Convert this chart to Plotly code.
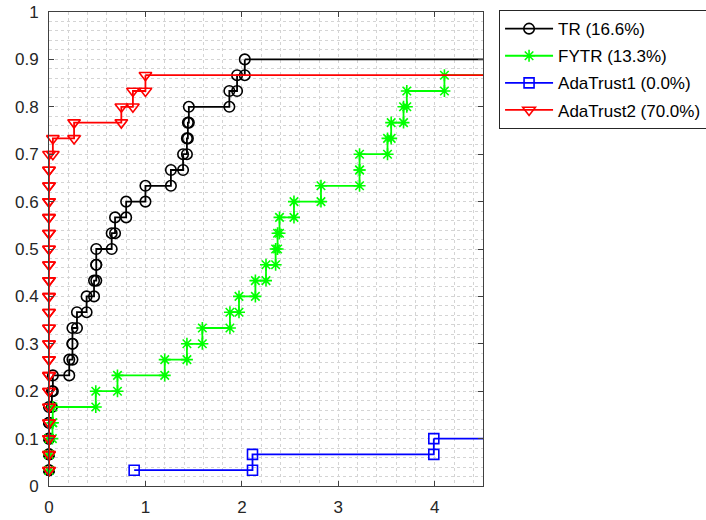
import plotly.graph_objects as go

# Performance profile: 30 test problems, log2 ratios (tau) at which each solver
# reaches the next problem solved; problems never solved are omitted.
n_problems = 30
x_max = 4.5

solver_names = ["TR (16.6%)", "FYTR (13.3%)", "AdaTrust1 (0.0%)", "AdaTrust2 (70.0%)"]

tr_tau = [0, 0, 0, 0, 0, 0.03, 0.04, 0.21, 0.243, 0.243, 0.29, 0.39, 0.467, 0.49,
          0.49, 0.65, 0.685, 0.80, 1.00, 1.264, 1.39, 1.43, 1.44, 1.45, 1.87, 1.95,
          2.03]
fytr_tau = [0, 0, 0, 0.035, 0.04, 0.485, 0.71, 1.20, 1.43, 1.59, 1.876, 1.97, 2.14,
            2.25, 2.35, 2.37, 2.39, 2.54, 2.82, 3.22, 3.22, 3.51, 3.548, 3.676, 3.71,
            4.10]
ada1_tau = [0.883, 2.11, 3.99]
ada2_tau = [0] * 21 + [0.04, 0.26, 0.75, 0.87, 1.00]

colors = ["#000000", "#00ff00", "#0000ff", "#ff0000"]
symbols = ["circle-open", "asterisk-open", "square-open", "triangle-down-open"]
sizes = [10.5, 10, 10, 11]


def stair_vertices(taus):
    xs, ys = [], []
    for i, t in enumerate(taus):
        if i > 0:
            xs.append(t)
            ys.append(i / n_problems)
        xs.append(t)
        ys.append((i + 1) / n_problems)
    return xs, ys


fig = go.Figure()
for k, taus in enumerate([tr_tau, fytr_tau, ada1_tau, ada2_tau]):
    xs, ys = stair_vertices(taus)
    grp = f"s{k}"
    # flat tail out to the right edge of the axes
    fig.add_trace(go.Scatter(
        x=[xs[-1], x_max + 0.2], y=[ys[-1], ys[-1]], mode="lines",
        line=dict(color=colors[k], width=1.8), showlegend=False,
        legendgroup=grp, hoverinfo="skip"))
    fig.add_trace(go.Scatter(
        x=xs, y=ys, mode="lines+markers", name=solver_names[k],
        legendgroup=grp, cliponaxis=False,
        line=dict(color=colors[k], width=1.8),
        marker=dict(symbol=symbols[k], size=sizes[k],
                    line=dict(color=colors[k], width=1.6), color=colors[k])))

grid_col = "#d4d4d4"
axis_col = "#404040"
tick_font = dict(family="Liberation Sans, Arial, sans-serif", size=17, color="#262626")
fig.update_xaxes(
    range=[0, x_max], tickvals=[0, 1, 2, 3, 4], ticktext=["0", "1", "2", "3", "4"],
    showline=True, linecolor=axis_col, linewidth=1, mirror="ticks",
    ticks="inside", ticklen=5, tickcolor=axis_col,
    showgrid=True, gridcolor=grid_col, griddash="dot", gridwidth=1,
    minor=dict(dtick=0.2, showgrid=True, gridcolor=grid_col, griddash="dot", gridwidth=1),
    zeroline=False, ticklabelstandoff=6, automargin=False, tickfont=tick_font)
fig.update_yaxes(
    range=[0, 1], tickvals=[i / 10 for i in range(11)],
    ticktext=["0", "0.1", "0.2", "0.3", "0.4", "0.5", "0.6", "0.7", "0.8", "0.9", "1"],
    showline=True, linecolor=axis_col, linewidth=1, mirror="ticks",
    ticks="inside", ticklen=5, tickcolor=axis_col,
    showgrid=True, gridcolor=grid_col, griddash="dot", gridwidth=1,
    minor=dict(dtick=0.02, showgrid=True, gridcolor=grid_col, griddash="dot", gridwidth=1),
    zeroline=False, ticklabelstandoff=6, automargin=False, tickfont=tick_font)

fig.update_layout(
    width=706, height=520,
    margin=dict(l=49, r=223, t=12, b=34, autoexpand=False),
    paper_bgcolor="white", plot_bgcolor="white",
    showlegend=True,
    legend=dict(x=1.037, y=1.004, xanchor="left", yanchor="top",
                bgcolor="white", bordercolor="#262626", borderwidth=1,
                font=dict(family="Liberation Sans, Arial, sans-serif", size=17, color="#000000"),
                itemwidth=48, tracegroupgap=2, traceorder="grouped"),
)

fig.write_html("out.html")
